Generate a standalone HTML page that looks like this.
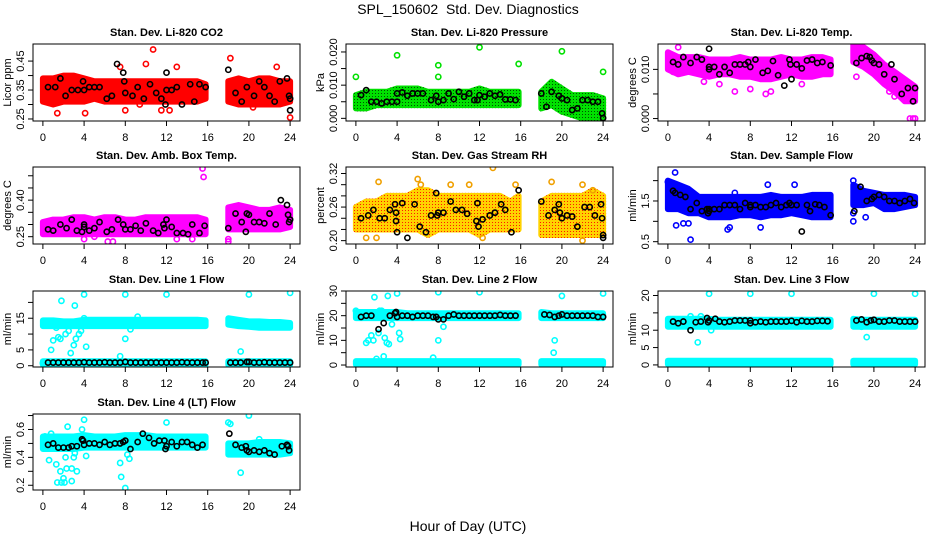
<!DOCTYPE html>
<html><head><meta charset="utf-8"><style>
html,body{margin:0;padding:0;background:#fff;}
svg{display:block;font-family:"Liberation Sans",sans-serif;}
</style></head><body>
<svg id="chart" width="936" height="540" viewBox="0 0 936 540" xmlns="http://www.w3.org/2000/svg">
<text x="468" y="14" text-anchor="middle" font-size="14">SPL_150602&#160; Std. Dev. Diagnostics</text>
<text x="468" y="531" text-anchor="middle" font-size="14">Hour of Day (UTC)</text>
</svg>
<script>
// ---- data ----
const xTicks = [0,4,8,12,16,20,24];
const titles = ["Stan. Dev. Li-820 CO2","Stan. Dev. Li-820 Pressure","Stan. Dev. Li-820 Temp.","Stan. Dev. Amb. Box Temp.","Stan. Dev. Gas Stream RH","Stan. Dev. Sample Flow","Stan. Dev. Line 1 Flow","Stan. Dev. Line 2 Flow","Stan. Dev. Line 3 Flow","Stan. Dev. Line 4 (LT) Flow"];
const yTitles = ["Licor ppm","kPa","degrees C","degrees C","percent","ml/min","ml/min","ml/min","ml/min","ml/min"];
const yRanges = [[0.243,0.509],[-0.0008,0.0224],[-0.0005,0.01516],[0.22,0.536],[0.194,0.3316],[0.443,2.335],[-0.4,23.6],[-0.8,30],[-0.6,21.3],[0.166,0.711]];
const yTicks = [[.25,.30,.35,.40,.45],[0,.005,.01,.015,.02],[0,.005,.01],[.25,.30,.35,.40,.45,.50],[.20,.22,.24,.26,.28,.30,.32],[.5,1,1.5,2],[0,5,10,15,20],[0,5,10,15,20,25,30],[0,5,10,15,20],[.2,.3,.4,.5,.6,.7]];
const yLabels = [[[.25,"0.25"],[.35,"0.35"],[.45,"0.45"]],[[0,"0.000"],[.01,"0.010"],[.02,"0.020"]],[[0,"0.000"],[.01,"0.010"]],[[.25,"0.25"],[.40,"0.40"]],[[.20,"0.20"],[.26,"0.26"],[.32,"0.32"]],[[.5,"0.5"],[1.5,"1.5"]],[[0,"0"],[5,"5"],[15,"15"]],[[0,"0"],[10,"10"],[20,"20"],[30,"30"]],[[0,"0"],[5,"5"],[10,"10"],[20,"20"]],[[.2,"0.2"],[.4,"0.4"],[.6,"0.6"]]];
const colors = ["#ff0000","#00e000","#ff00ff","#ff00ff","#ffd200","#0000ff","#00ffff","#00ffff","#00ffff","#00ffff"];

const bandHoursA = [0,1,2,3,4,5,6,7,8,9,10,11,12,13,14,15,15.8];
const bandHoursB = [18,19,20,21,22,23,24];
const bandLoA = [
 [.31,.30,.31,.31,.31,.32,.31,.31,.31,.31,.31,.31,.31,.31,.31,.31,.32],
 [.003,.003,.004,.004,.004,.004,.004,.004,.004,.004,.004,.004,.004,.004,.004,.004,.004],
 [.010,.009,.0095,.009,.0085,.009,.009,.0085,.0085,.008,.008,.0085,.009,.0085,.0085,.009,.009],
 [.26,.26,.26,.26,.26,.26,.26,.26,.26,.26,.26,.26,.26,.26,.26,.26,.26],
 [.22,.22,.22,.22,.22,.22,.22,.21,.22,.22,.22,.22,.21,.22,.22,.22,.22],
 [1.3,1.3,1.2,1.2,1.1,1.1,1.1,1.15,1.15,1.1,1.15,1.15,1.2,1.15,1.1,1.1,1.1],
 [12.5,12.5,12.5,12.5,12.5,12.5,12.5,12.5,12.5,12.5,12.5,12.5,12.5,12.5,12.5,12.5,12.5],
 [19,19,19,19,19,19,19,19,19,19,19,19,19,19,19,19,19],
 [11,11,11,11,11,11,11,11,11,11,11,11,11,11,11,11,11],
 [.46,.46,.46,.46,.47,.47,.47,.47,.47,.47,.47,.47,.47,.47,.47,.47,.47]];
const bandHiA = [
 [.39,.39,.40,.40,.39,.38,.38,.38,.38,.38,.38,.38,.38,.38,.38,.38,.37],
 [.007,.008,.008,.008,.009,.009,.009,.008,.008,.008,.008,.008,.009,.008,.008,.008,.008],
 [.0135,.0125,.0125,.0125,.012,.012,.012,.0125,.012,.012,.012,.0125,.012,.012,.0125,.0125,.012],
 [.31,.32,.32,.33,.33,.32,.33,.33,.32,.32,.33,.33,.33,.33,.33,.33,.32],
 [.26,.27,.27,.28,.28,.28,.29,.29,.28,.28,.28,.28,.28,.28,.28,.27,.28],
 [2.0,1.9,1.8,1.6,1.6,1.6,1.6,1.6,1.6,1.6,1.65,1.6,1.6,1.6,1.65,1.65,1.65],
 [14.3,14.3,14,14,14.5,14.5,14.5,14.5,14.5,14.5,14.5,14.5,14.5,14.5,14.5,14.5,14.3],
 [21.5,21.5,21.5,21.5,21.5,21,21,21,21,21,21,21,21,21,21,21,21],
 [13.3,13.3,13.3,13.3,13.3,13,13,13,13,13,13,13,13,13,13,13,13],
 [.55,.55,.55,.55,.56,.55,.55,.55,.56,.56,.56,.55,.55,.55,.55,.55,.55]];
const bandLoB = [
 [.31,.30,.30,.30,.30,.30,.31],
 [.003,.004,.002,.001,.000,.000,.000],
 [.0115,.0105,.009,.007,.0055,.0035,.0035],
 [.28,.28,.28,.28,.28,.28,.29],
 [.21,.21,.21,.21,.21,.21,.21],
 [1.4,1.4,1.45,1.3,1.3,1.35,1.4],
 [13,12.5,12.3,12,12,12,12],
 [19,19,19,19,19,19,19],
 [11,11,11,11,11,11,11],
 [.42,.42,.42,.42,.42,.42,.43]];
const bandHiB = [
 [.38,.39,.38,.39,.39,.38,.38],
 [.008,.011,.009,.007,.007,.007,.006],
 [.015,.0145,.013,.011,.0095,.008,.0065],
 [.37,.38,.37,.36,.36,.37,.36],
 [.27,.28,.28,.28,.28,.29,.28],
 [1.9,1.75,1.7,1.65,1.65,1.65,1.6],
 [15,14.5,14,14,13.8,13.8,13.5],
 [21.5,21,21,21,21,21,21],
 [13.3,13,13,13,13,13,13],
 [.50,.50,.50,.51,.51,.51,.50]];
const lowLo = [null,null,null,null,null,null,0.3,0.2,0.2,null];
const lowHi = [null,null,null,null,null,null,1.4,1.6,1.2,null];

const outT = [
 [1.4,4.1,7.5,8,10.7,10,13,12.3,18.2,22.7,24,20.4,11.5,9.4],
 [0,4,8,8,12,20,15.8,24],
 [1,3.5,5,6.5,8,9.5,10,13,21.5,22,23.5,24,23.8,0.5,18.3],
 [15.5,15.6,18,18,6.3,6.8,13,14.5,5,4],
 [2.2,6,6.3,11,13.3,9.2,19,22,1,2,12.3,22,15.5,23],
 [0,0.2,0.7,2.2,0.8,1.5,2,5.8,6,9,12.3,6.5,18,18,19.2,18,9.7],
 [0,0.8,1,1.3,1.5,1.7,1.8,2.2,2.5,2.7,3,3.1,3.2,3.5,3.7,4,4,4.2,7.5,8,8,8.5,9.2,12,19.2,20,24],
 [0,1,1.2,1.5,1.7,1.8,2,2.2,2.3,2.5,2.7,2.8,3,3.1,3.2,3.5,4,4.2,4.3,7.5,8,8,8.5,12,19.2,19.3,20,24],
 [2.2,2.9,3.2,4.2,4,8,12,20,24,18.8,19.3],
 [0.2,0.8,0.6,1.3,1.4,1.7,1.8,2,2.1,2.2,2.3,2.4,2.8,2.8,3,3.1,3.3,3.8,4,4.2,7.5,7.6,8,8.2,8.4,12,18,18.2,19.2,20,21]];
const outV = [
 [.27,.27,.43,.28,.49,.44,.43,.28,.46,.43,.255,.29,.28,.30],
 [.0125,.019,.016,.0125,.0214,.0202,.0164,.014],
 [.0145,.0075,.007,.0055,.006,.005,.0055,.007,.0055,.0045,0,0,0,.0095,.0085],
 [.53,.495,.24,.23,.23,.23,.24,.24,.25,.24],
 [.305,.31,.30,.30,.33,.30,.305,.30,.205,.205,.205,.20,.30,.29],
 [1.97,1.95,2.2,0.55,0.9,0.95,0.95,0.8,0.85,0.85,1.9,1.7,1.0,1.2,1.1,2.0,1.9],
 [0.8,5,8,12,9,8.5,20.5,10,11,4,6.5,19,8.5,10,11,22.5,15,6,3,22.5,8.5,11.5,15.5,22.5,4.5,22.5,23],
 [22,9,10,12,10,27.5,2.5,13,22,22,3.5,11,9,28,8.5,16.5,29,13,10.5,3,29.5,10,15.5,29.5,5,10,28,29],
 [14,6.5,14,10,20.5,20.5,20.5,20.5,20.5,11,8],
 [.55,.57,.38,.35,.22,.30,.22,.25,.22,.40,.32,.62,.32,.23,.40,.43,.30,.60,.67,.41,.36,.26,.18,.42,.39,.65,.65,.64,.29,.70,.53]];

const blkT = [
 [0.5,1.2,1.7,2.2,2.8,3.4,3.9,4,4.5,5,5.5,6.2,6.7,7.2,7.8,7.9,8,8.7,9.2,9.8,10.4,11,11.5,11.9,12,12,12.5,13,13.5,14.3,14.7,15.2,15.8,18,18.7,19.3,19.8,20.5,21,21.5,22,22.5,23,23.7,23.9,24,24],
 [0.5,1,1.5,2,2.5,3,3.5,4,4,4.5,5,5.5,6,6.5,7.3,7.8,8,8.5,9,9.5,10,10.5,11,11.5,11.8,12,12.5,13,13.5,14,14.5,15,15.5,18,18.5,19,19.7,20,20.5,21,21.5,22,22.5,23,23.5,23.9,24],
 [0.5,1,1.5,2.2,2.8,3.3,4,4,4,4.5,5,5.5,6,6.5,7,7.5,7.8,8,8.5,9.2,9.7,10.2,10.7,11.3,11.8,11.9,12,12.5,13,13.5,14,14.5,15,15.8,18.3,18.8,19.3,19.6,19.8,20,20.5,21,21.7,22,22.7,23.3,23.8,24],
 [0.5,1,1.7,2.3,2.8,3.3,3.8,4,4,4.5,5,5.5,6.2,6.7,7.3,7.8,8,8.5,9,9.5,10,10.7,11.2,11.7,11.8,12,12.5,13,13.6,14.1,14.5,15.2,15.7,18,18.7,19.3,19.7,19.8,20,20.5,21,21.5,22,22.6,23.1,23.7,23.8,23.9,24],
 [0.5,1.2,1.7,2.3,2.8,3.3,3.8,3.9,3.9,4,4.5,5,5.7,6.2,6.8,7.3,7.8,7.9,8,8.5,9.2,9.7,10.3,10.8,11.7,11.8,11.9,12.3,13,13.5,14.1,14.5,15.1,15.8,18,18.7,19.3,19.7,19.8,20,20.5,21,21.5,22.2,22.7,23.2,23.8,23.9,24,24],
 [0.5,0.7,1.2,1.7,2.2,2.8,3.3,3.8,3.9,4,4,4.5,5,5.5,6,6.5,7,7.5,8,8,8.5,9,9.5,10,10.5,11,11.5,11.8,12,12.5,13,13.5,13.8,14.3,14.7,15.2,15.8,18.1,18.7,19.3,19.8,20,20.5,21,21.5,22,22.5,23,23.5,23.9],
 [0.5,1,1.5,2,2.5,3,3.5,4,4.5,5,5.5,6,6.5,7,7.5,8,8.5,9,9.5,10,10.5,11,11.5,12,12.5,13,13.5,14,14.5,15,15.5,15.8,18.2,18.7,19.2,19.8,20,20.5,21,21.5,22,22.5,23,23.5,24],
 [0.5,1,1.5,2.2,2.7,3.3,3.8,3.9,4,4.5,5,5.5,6,6.5,7,7.5,7.8,8,8.5,9,9.5,10,10.5,11,11.5,12,12.5,13,13.5,14,14.5,15,15.5,18.3,18.8,19.3,19.7,20,20.5,21,21.5,22,22.5,23,23.5,24],
 [0.5,1,1.5,2.2,2.7,3.2,3.8,3.9,4,4.6,5,5.5,6,6.5,7,7.5,8,8,8.5,9,9.5,10,10.5,11,11.5,12,12.5,13,13.5,14,14.5,15,15.5,18.3,18.8,19.3,19.7,20,20.5,21,21.5,22,22.5,23,23.5,24],
 [0.5,1,1.5,2,2.5,2.8,3.3,3.8,3.9,4,4.5,5,5.5,6,6.5,7,7.5,7.8,8,8.5,9.2,9.7,10.3,10.8,11.3,11.8,11.9,12,12.5,13,13.5,14,14.5,15,15.5,18.1,18.7,19.3,19.7,19.8,20,20.5,21,21.5,22,22.5,23.2,23.7,23.8,23.9]];
const blkV = [
 [.36,.36,.39,.33,.35,.35,.38,.35,.36,.36,.36,.32,.33,.44,.41,.38,.34,.33,.36,.32,.37,.34,.32,.30,.35,.41,.35,.36,.30,.37,.31,.37,.36,.42,.34,.31,.36,.33,.38,.36,.33,.31,.38,.39,.33,.32,.28],
 [.007,.0085,.005,.005,.0045,.005,.005,.005,.0075,.0078,.0068,.0075,.0075,.0075,.0055,.0068,.005,.0055,.0075,.0058,.008,.0065,.0075,.0055,.0055,.007,.0065,.0075,.0068,.0072,.0057,.0057,.0055,.0075,.0035,.008,.0068,.006,.0055,.0025,.003,.0055,.0055,.005,.005,.0015,.0001],
 [.0115,.011,.0125,.0113,.0125,.012,.0142,.0105,.010,.0105,.009,.0105,.0093,.011,.011,.011,.0115,.0105,.012,.0093,.0097,.0117,.0088,.0067,.012,.011,.008,.011,.0102,.0118,.012,.0113,.0115,.0108,.0113,.0123,.0127,.0125,.0118,.0113,.011,.009,.011,.008,.005,.0062,.0035,.0062],
 [.28,.275,.30,.285,.32,.275,.27,.29,.30,.275,.285,.31,.27,.28,.32,.30,.28,.28,.295,.275,.305,.275,.265,.30,.285,.32,.29,.265,.265,.26,.30,.265,.295,.285,.345,.31,.27,.345,.34,.31,.31,.305,.345,.30,.40,.38,.34,.31,.32],
 [.24,.245,.255,.24,.24,.255,.265,.25,.235,.215,.267,.205,.265,.225,.215,.245,.285,.245,.25,.25,.27,.255,.255,.248,.235,.267,.225,.238,.245,.25,.265,.255,.215,.29,.27,.245,.255,.265,.25,.24,.245,.243,.225,.26,.26,.245,.265,.24,.21,.205],
 [1.75,1.7,1.65,1.6,1.3,1.45,1.25,1.3,1.2,1.3,1.25,1.3,1.3,1.4,1.4,1.4,1.3,1.45,1.4,1.35,1.4,1.35,1.35,1.4,1.45,1.35,1.4,1.45,1.4,1.4,0.75,1.4,1.25,1.42,1.4,1.35,1.15,1.25,1.85,1.5,1.55,1.6,1.65,1.6,1.5,1.5,1.45,1.5,1.55,1.45],
 [1,1,1,1,1,1,1,1.1,1,1,1,1.1,1,1,1,1.2,1,1,1,1,1,1,1,1,1,1,1.1,1,1,1,1,1,1,1,1,1.2,1.2,1,1,1.1,1,1,1,1,1],
 [19.5,20,20,14.5,17,20,21,21.5,19.5,20,20,19.5,20,20,20,19.5,19.5,18.5,18.5,20,20.5,20,20,20,20,20,20,20,20,20.3,20,20,20,20.5,20.3,19.5,20,20.5,20,20,20,20,20,20,19.5,19.5],
 [12.5,12,12.5,10,12.3,12.5,13.5,12.3,12.8,13.3,12.5,12.3,12.5,12.8,12.8,12.8,12.8,12,12.3,12.5,12.3,12.5,12.5,12.5,12.5,12.7,12.3,12.7,12.5,12.5,12.7,12.7,12.6,12.8,13.1,12.3,12.8,13,12.5,12.5,12.8,12.8,12.5,12.5,12.5,12.5],
 [.49,.50,.47,.47,.47,.48,.48,.53,.52,.49,.50,.50,.49,.51,.49,.50,.50,.51,.52,.46,.51,.57,.54,.50,.52,.52,.46,.48,.51,.48,.51,.51,.49,.47,.49,.57,.49,.47,.48,.45,.44,.45,.44,.45,.43,.42,.48,.49,.48,.45]];

// ---- layout ----
const colL = [33,346,658], colR = [300,613,925];
const rowT = [44,167,291,414], rowB = [121,244,367,490];
const NS = "http://www.w3.org/2000/svg";
const svg = document.getElementById('chart');
function mk(tag, attrs, parent){ const e=document.createElementNS(NS,tag); for(const k in attrs) e.setAttribute(k,attrs[k]); (parent||svg).appendChild(e); return e; }

for(let p=0;p<10;p++){
  const c=p%3, r=Math.floor(p/3);
  const L=colL[c], R=colR[c], T=rowT[r], B=rowB[r];
  const xs = t => L + (t+0.96)/25.92*(R-L);
  const [y0,y1]=yRanges[p];
  const ys = v => B - (v-y0)/(y1-y0)*(B-T);
  const g=mk('g',{});
  
  
  const tt=mk('text',{x:(L+R)/2,y:T-8,'text-anchor':'middle','font-size':'11','font-weight':'bold'},g);
  
  
  tt.textContent=titles[p];
  const cp=mk('clipPath',{id:'cp'+p},g); mk('rect',{x:L,y:T,width:R-L,height:B-T},cp);
  const pg=mk('g',{'clip-path':'url(#cp'+p+')'},g);
  const bandPaths=[];
  const drawBand=(hrs,lo,hi,name)=>{
    let d='M'+hrs.map((h,i)=>xs(h).toFixed(1)+','+ys(hi[i]).toFixed(1)).join('L');
    for(let i=hrs.length-1;i>=0;i--) d+='L'+xs(hrs[i]).toFixed(1)+','+ys(lo[i]).toFixed(1);
    d+='Z';
    const e=mk('path',{d:d,fill:colors[p],stroke:colors[p],'stroke-width':6,'stroke-linejoin':'round'},pg);
    
    
    bandPaths.push(e);
  };
  drawBand(bandHoursA,bandLoA[p],bandHiA[p],'data-cloud-morning');
  drawBand(bandHoursB,bandLoB[p],bandHiB[p],'data-cloud-evening');
  if(lowLo[p]!==null){
    const la=bandHoursA.map(()=>lowLo[p]), ha=bandHoursA.map(()=>lowHi[p]);
    const lb=bandHoursB.map(()=>lowLo[p]), hb=bandHoursB.map(()=>lowHi[p]);
    drawBand(bandHoursA,la,ha,'low-cloud-morning');
    drawBand(bandHoursB,lb,hb,'low-cloud-evening');
  }
  if(p===1||p===4){
    const pat=mk('pattern',{id:'pt'+p,width:3,height:3,patternUnits:'userSpaceOnUse'},g);
    mk('rect',{x:0,y:0,width:1,height:1,fill:p===1?'#005000':'#ff1a00'},pat);
    const m=mk('mask',{id:'mk'+p},g);
    bandPaths.forEach(pp=>{const q=pp.cloneNode(); q.setAttribute('fill','#fff'); q.setAttribute('stroke','#fff'); m.appendChild(q);});
    const ov=mk('rect',{x:L,y:T,width:R-L,height:B-T,fill:'url(#pt'+p+')',mask:'url(#mk'+p+')'},pg);
    
    
  }
  outT[p].forEach((t,i)=>{
    const e=mk('circle',{cx:xs(t),cy:ys(outV[p][i]),r:2.6,fill:'none',stroke:p===4?'#f0a000':colors[p],'stroke-width':1.6},pg);
    
    
  });
  blkT[p].forEach((t,i)=>{
    const e=mk('circle',{cx:xs(t),cy:ys(blkV[p][i]),r:2.6,fill:'none',stroke:'#000','stroke-width':1.6},pg);
    
    
  });
  const bx=mk('rect',{x:L,y:T,width:R-L,height:B-T,fill:'none',stroke:'#000','stroke-width':1},g);
  
  
  xTicks.forEach(t=>{
    mk('line',{x1:xs(t),x2:xs(t),y1:B,y2:B+5,stroke:'#000'},g);
    const lb=mk('text',{x:xs(t),y:B+20,'text-anchor':'middle','font-size':'11'},g);
    
    
    lb.textContent=t;
  });
  mk('line',{x1:xs(0),x2:xs(24),y1:B,y2:B,stroke:'#000'},g);
  yTicks[p].forEach(v=>{ mk('line',{x1:L-5,x2:L,y1:ys(v),y2:ys(v),stroke:'#000'},g); });
  yLabels[p].forEach(([v,s])=>{
    const lb=mk('text',{x:0,y:0,'text-anchor':'middle','font-size':'11',transform:`translate(${L-9},${ys(v)}) rotate(-90)`},g);
    
    
    lb.textContent=s;
  });
  const yt=mk('text',{x:0,y:0,'text-anchor':'middle','font-size':'11',transform:`translate(${L-22},${(T+B)/2}) rotate(-90)`},g);
  
  
  yt.textContent=yTitles[p];
}
</script>
</body></html>
